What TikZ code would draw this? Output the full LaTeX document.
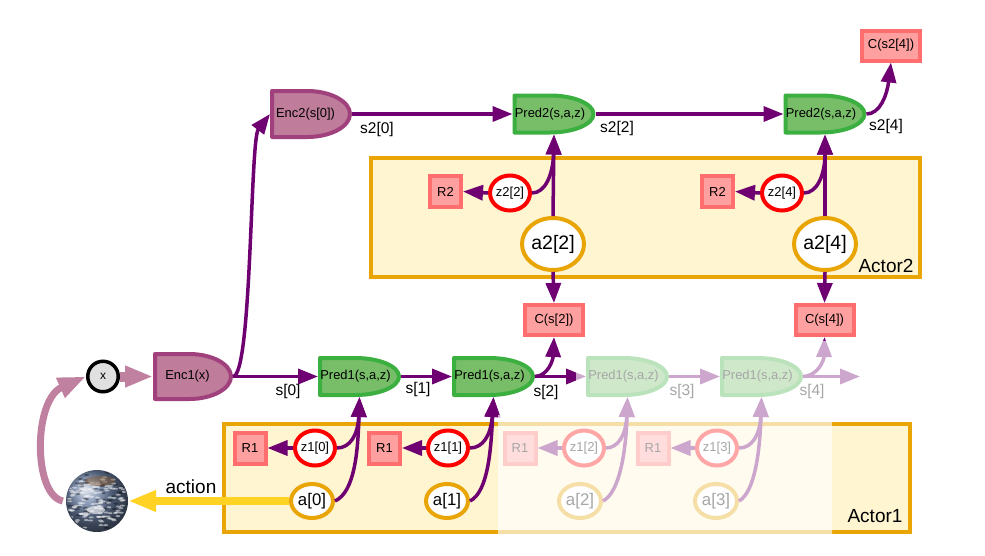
\documentclass[tikz,border=0pt]{standalone}
\usepackage{fontspec}
\setmainfont{Liberation Sans}
\usetikzlibrary{arrows.meta,shapes.geometric}
\definecolor{flowc}{RGB}{110,0,113}
\definecolor{envc}{RGB}{192,128,160}
\definecolor{encfill}{RGB}{191,125,155}
\definecolor{encline}{RGB}{160,65,125}
\definecolor{predfill}{RGB}{120,190,105}
\definecolor{predline}{RGB}{60,175,65}
\definecolor{boxfill}{RGB}{255,245,208}
\definecolor{boxline}{RGB}{232,165,5}
\definecolor{costfill}{RGB}{255,160,160}
\definecolor{costline}{RGB}{255,110,110}
\definecolor{actionc}{RGB}{255,210,35}
\definecolor{earthc}{RGB}{110,130,165}
% flat on the left, round on the right
\makeatletter
\pgfdeclareshape{halfgate}{
  \inheritsavedanchors[from=rectangle]
  \inheritanchorborder[from=rectangle]
  \inheritanchor[from=rectangle]{center}
  \inheritanchor[from=rectangle]{north}
  \inheritanchor[from=rectangle]{south}
  \inheritanchor[from=rectangle]{east}
  \inheritanchor[from=rectangle]{west}
  \backgroundpath{
    \southwest \edef\gxa{\the\pgf@x}\edef\gya{\the\pgf@y}
    \northeast \edef\gxb{\the\pgf@x}\edef\gyb{\the\pgf@y}
    \pgfmathsetlengthmacro\gxa{\gxa+\pgfkeysvalueof{/pgf/outer xsep}}
    \pgfmathsetlengthmacro\gya{\gya+\pgfkeysvalueof{/pgf/outer ysep}}
    \pgfmathsetlengthmacro\gxb{\gxb-\pgfkeysvalueof{/pgf/outer xsep}}
    \pgfmathsetlengthmacro\gyb{\gyb-\pgfkeysvalueof{/pgf/outer ysep}}
    \pgfmathsetlengthmacro\gxc{\gxa+.45*(\gxb-\gxa)}
    \pgfmathsetlengthmacro\gxd{\gxc+.3*(\gxb-\gxa)}
    \pgfmathsetlengthmacro\gyc{.5*(\gya+\gyb)}
    \pgfmathsetlengthmacro\gyu{\gyc+.275*(\gyb-\gya)}
    \pgfmathsetlengthmacro\gyl{\gyc-.275*(\gyb-\gya)}
    \pgfpathmoveto{\pgfpoint{\gxa}{\gya}}
    \pgfpathlineto{\pgfpoint{\gxa}{\gyb}}
    \pgfpathlineto{\pgfpoint{\gxc}{\gyb}}
    \pgfpathcurveto{\pgfpoint{\gxd}{\gyb}}{\pgfpoint{\gxb}{\gyu}}{\pgfpoint{\gxb}{\gyc}}
    \pgfpathcurveto{\pgfpoint{\gxb}{\gyl}}{\pgfpoint{\gxd}{\gya}}{\pgfpoint{\gxc}{\gya}}
    \pgfpathclose
  }
}
\makeatother
\tikzset{
  gatenode/.style={halfgate,draw,line width=4pt,line join=round,inner sep=0pt,font=\fontsize{12.9}{14}\selectfont},
  encnode/.style={gatenode,draw=encline,fill=encfill,execute at end node={\hspace*{11pt}}},
  prednode/.style={gatenode,draw=predline,fill=predfill,minimum width=79pt,minimum height=37pt,execute at end node={\hspace*{8pt}}},
  costnode/.style={rectangle,draw=costline,fill=costfill,line width=4pt,inner sep=0pt,minimum height=30pt,minimum width=58pt,font=\fontsize{13}{14}\selectfont},
  rnode/.style={costnode,minimum width=31pt,minimum height=31pt},
  znode/.style={ellipse,draw=red,fill=white,line width=4pt,inner sep=0pt,minimum width=40pt,minimum height=35pt,font=\fontsize{13}{14}\selectfont},
  anode/.style={ellipse,draw=boxline,fill=white,line width=4pt,inner sep=0pt,minimum width=42pt,minimum height=34pt,font=\fontsize{16.8}{18}\selectfont},
  bigactor/.style={anode,minimum width=62pt,minimum height=52pt,font=\fontsize{19.5}{22}\selectfont},
  actorbox/.style={rectangle,draw=boxline,fill=boxfill,line width=4pt,inner sep=0pt},
  boxtext/.style={font=\fontsize{19}{20}\selectfont},
  statetext/.style={font=\fontsize{15.5}{16}\selectfont},
  flow/.style={draw=flowc,line width=3.5pt,-{Triangle[length=20pt,width=15pt,color=flowc]}},
}
\begin{document}
\begin{tikzpicture}[x=1pt,y=-1pt]
\useasboundingbox (0,0) rectangle (985,555);

\node[actorbox,minimum width=549pt,minimum height=119pt] (actor2) at (645.5,217.5) {};
\node[actorbox,minimum width=686pt,minimum height=108pt] (actor1) at (567,478) {};
\node[boxtext] (actor2t) at (886,266) {Actor2};
\node[boxtext] (actor1t) at (875,516) {Actor1};

\node[circle,draw=black,fill=black!12,line width=3.5pt,minimum size=30.5pt,inner sep=0pt,font=\fontsize{12}{14}\selectfont] (x) at (103,376.5) {x};
\node[encnode,minimum width=76pt,minimum height=45pt] (enc1) at (193,376.5) {Enc1(x)};
\node[encnode,minimum width=78pt,minimum height=46pt] (enc2) at (311,114) {Enc2(s[0])};

\node[prednode] (pred10) at (359.5,376.5) {Pred1(s,a,z)};
\node[prednode] (pred11) at (493.5,376.5) {Pred1(s,a,z)};
\node[prednode] (pred12) at (627.5,376.5) {Pred1(s,a,z)};
\node[prednode] (pred13) at (761.5,376.5) {Pred1(s,a,z)};
\node[prednode] (pred22) at (554,114) {Pred2(s,a,z)};
\node[prednode] (pred24) at (825,114) {Pred2(s,a,z)};

\node[costnode] (cs24) at (891,45.5) {C(s2[4])};
\node[costnode] (cs2) at (554,320) {C(s[2])};
\node[costnode] (cs4) at (824.5,320) {C(s[4])};

\node[rnode] (r22) at (445.5,191.5) {R2};
\node[rnode] (r24) at (717.5,191.5) {R2};
\node[znode] (z22) at (510,193) {z2[2]};
\node[znode] (z24) at (782,193) {z2[4]};
\node[bigactor] (a22) at (553,244) {a2[2]};
\node[bigactor] (a24) at (825,244) {a2[4]};

\node[rnode] (r10) at (250,448) {R1};
\node[rnode] (r11) at (384.5,448) {R1};
\node[rnode] (r12) at (520,448) {R1};
\node[rnode] (r13) at (653,448) {R1};
\node[znode] (z10) at (315,448) {z1[0]};
\node[znode] (z11) at (448,448) {z1[1]};
\node[znode] (z12) at (584,448) {z1[2]};
\node[znode] (z13) at (717,448) {z1[3]};
\node[anode] (a0) at (312,501) {a[0]};
\node[anode] (a1) at (447,501) {a[1]};
\node[anode] (a2) at (580,501) {a[2]};
\node[anode] (a3) at (716,501) {a[3]};

% the earth
\node[circle,minimum size=62pt,inner sep=0pt,shading=ball,ball color=earthc] (earth) at (97,501) {};
\begin{scope}
\clip (earth) circle (30);
\pgfmathsetseed{11}
\foreach \i in {1,...,70}{
  \pgfmathsetmacro\ex{97+30*(2*rnd-1)}
  \pgfmathsetmacro\ey{501+30*(2*rnd-1)}
  \fill[black,opacity=.35] (\ex,\ey) ellipse (2.5pt and 1pt);
}
\foreach \i in {1,...,130}{
  \pgfmathsetmacro\ex{97+28*(2*rnd-1)}
  \pgfmathsetmacro\ey{503+26*(2*rnd-1)}
  \fill[white,opacity=.5] (\ex,\ey) ellipse (2.5pt and 1pt);
}
\fill[brown!70!black,opacity=.45] (100,481) ellipse (15pt and 5pt);
\fill[white,opacity=.6] (96,510) ellipse (9pt and 4pt);
\end{scope}

\node[statetext] (s0t) at (288,391) {s[0]};
\node[statetext] (s1t) at (418,389) {s[1]};
\node[statetext] (s2t) at (546,392) {s[2]};
\node[statetext] (s3t) at (682,391) {s[3]};
\node[statetext] (s4t) at (812,391) {s[4]};
\node[statetext] (s20t) at (377,129) {s2[0]};
\node[statetext] (s22t) at (617,128) {s2[2]};
\node[statetext] (s24t) at (886,126) {s2[4]};
\node[boxtext] (actiont) at (191,487) {action};

\coordinate (out4) at (860,376.5);

\draw[flow] (enc1.east) -- (pred10.west);
\draw[flow] (enc1.east) .. controls (252,376) and (250,140) .. (enc2.west);
\draw[flow] (pred10.east) -- (pred11.west);
\draw[flow] (pred11.east) -- (pred12.west);
\draw[flow] (pred11.east) .. controls (548,376) and (553,360) .. (cs2.south);
\draw[flow] (pred12.east) -- (pred13.west);
\draw[flow] (pred13.east) -- (out4);
\draw[flow] (pred13.east) .. controls (818,376) and (824,360) .. (cs4.south);

\draw[flow] (enc2.east) -- (pred22.west);
\draw[flow] (pred22.east) -- (pred24.west);
\draw[flow] (pred24.east) .. controls (880,114) and (887,95) .. (cs24.south);
\draw[flow] (a22.north) -- (pred22.south);
\draw[flow] (a24.north) -- (pred24.south);
\draw[flow] (a22.south) -- (cs2.north);
\draw[flow] (a24.south) -- (cs4.north);
\draw[flow] (z22.east) .. controls (545,193) and (553,175) .. (pred22.south);
\draw[flow] (z24.east) .. controls (817,193) and (825,175) .. (pred24.south);
\draw[flow] (z22.west) -- (r22.east);
\draw[flow] (z24.west) -- (r24.east);

\draw[flow] (z10.east) .. controls (350,448) and (358,435) .. (pred10.south);
\draw[flow] (a0.east) .. controls (355,492) and (358,450) .. (pred10.south);
\draw[flow] (z11.east) .. controls (483,448) and (491,435) .. (pred11.south);
\draw[flow] (a1.east) .. controls (488,492) and (491,450) .. (pred11.south);
\draw[flow] (z12.east) .. controls (618,448) and (626,435) .. (pred12.south);
\draw[flow] (a2.east) .. controls (620,492) and (626,450) .. (pred12.south);
\draw[flow] (z13.east) .. controls (752,448) and (760,435) .. (pred13.south);
\draw[flow] (a3.east) .. controls (755,492) and (760,450) .. (pred13.south);
\draw[flow] (z10.west) -- (r10.east);
\draw[flow] (z11.west) -- (r11.east);
\draw[flow] (z12.west) -- (r12.east);
\draw[flow] (z13.west) -- (r13.east);

\draw[draw=envc,line width=7pt,-{Triangle[length=28pt,width=20pt,color=envc]}] (earth.west) ++(-3,0) .. controls (33,495) and (33,400) .. (x.west);
\draw[draw=envc,line width=10pt,-{Triangle[length=28pt,width=20pt,color=envc]}] (x.east) -- (enc1.west);
\draw[draw=actionc,line width=8pt,-{Triangle[length=28pt,width=20pt,color=actionc]}] (a0.west) -- (earth.east);

% the steps not reached yet
\fill[white,opacity=.65] (498,415) -- (576,415) -- (576,341) -- (870,341) -- (870,415) -- (832,415) -- (832,536) -- (498,536) -- cycle;
\end{tikzpicture}
\end{document}
